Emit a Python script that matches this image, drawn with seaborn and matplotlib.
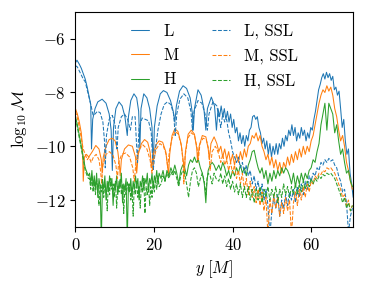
import numpy as np
import matplotlib
matplotlib.use("Agg")
import matplotlib.pyplot as plt
from matplotlib.lines import Line2D
import seaborn as sns

# ---- data (x in M, values are log10 of the constraint) ----

# L, full resolution
L_head_x = [0, 0.4, 1.0, 1.5, 2.0, 2.5, 3.0, 3.5, 3.9, 4.1, 4.4, 5.0, 5.7, 6.8, 7.8, 8.6, 9.1, 9.4, 9.7, 10.3,
            11.1, 11.9, 12.6, 13.2, 13.5, 14.1, 14.9, 15.6, 16.1, 16.4, 16.7, 17.4, 18.2, 18.9, 19.5, 19.8, 20.1,
            20.8, 21.6, 22.4, 23.3, 24.2, 24.9, 25.3, 25.7, 26.5, 27.4, 28.3, 29.2, 29.8, 30.0, 30.3, 31.2, 32.0,
            32.7, 33.2, 33.6, 34.6, 35.4, 35.9]
L_head_y = [-6.9, -6.8, -6.95, -7.1, -7.3, -7.5, -7.8, -8.15, -8.45, -10.1, -9.0, -8.6, -8.35, -8.25, -8.4, -8.8,
            -9.4, -10.9, -9.3, -8.6, -8.35, -8.5, -8.9, -9.6, -8.9, -8.3, -8.05, -8.2, -8.7, -10.1, -8.6, -8.05,
            -8.2, -8.6, -9.3, -10.8, -9.3, -8.5, -8.05, -7.93, -8.0, -8.3, -8.7, -9.1, -8.5, -7.95, -7.75, -7.85,
            -8.2, -8.8, -9.4, -8.6, -7.9, -8.1, -8.6, -9.4, -8.6, -8.17, -8.5, -9.4]
L_tail_x = np.arange(36.3, 70.75, 0.4)
L_tail_y = [-8.6, -8.9, -8.5, -8.9, -8.6, -9.0, -8.7, -9.1, -8.8, -9.3,
            -9.0, -9.5, -9.3, -9.8, -9.5, -9.9, -9.6, -10.0, -9.6, -9.8,
            -9.4, -9.3, -8.9, -8.85, -9.0, -8.9, -9.3, -9.5, -9.9, -9.7,
            -10.1, -9.8, -10.3, -9.9, -10.4, -10.0, -10.3, -9.9, -10.3, -9.9,
            -10.1, -9.7, -10.0, -9.6, -9.8, -9.4, -9.6, -9.2, -9.6, -9.3,
            -9.8, -9.5, -9.7, -9.3, -9.6, -9.4, -9.8, -9.5, -9.7, -9.3,
            -9.4, -9.0, -8.7, -8.3, -7.9, -7.7, -7.45, -7.3, -7.5, -7.25,
            -7.45, -7.3, -7.55, -7.4, -7.9, -7.8, -8.1, -7.95, -8.6, -9.3,
            -9.0, -9.8, -10.3, -10.1, -11.0, -11.4, -11.9]

# L, SSL
LS_head_x = [0, 0.5, 1.0, 1.5, 2.0, 2.5, 3.0, 3.5, 4.0, 4.5, 5.0, 5.6, 6.3, 7.0, 7.4, 7.6, 7.9, 8.6, 9.4, 10.1,
             10.6, 10.9, 11.7, 12.5, 13.3, 14.0, 14.5, 15.2, 15.8, 16.2, 17.0, 17.8, 18.6, 19.3, 19.8, 20.3, 21.0,
             21.8, 22.6, 23.4, 24.3, 25.0, 25.4, 25.8, 26.6, 27.6, 28.6, 29.4, 29.8, 30.2, 31.2, 32.2, 33.0, 33.6,
             34.0, 35.0, 36.0]
LS_head_y = [-7.0, -7.05, -7.2, -7.35, -7.5, -7.6, -7.9, -8.2, -8.5, -8.85, -8.8, -8.7, -8.75, -9.1, -9.8, -10.8,
             -9.6, -9.0, -8.85, -9.2, -10.1, -9.3, -8.9, -8.8, -9.0, -9.4, -8.9, -8.9, -10.6, -9.3, -8.95, -9.0,
             -9.05, -9.5, -10.9, -10.2, -9.4, -8.8, -8.45, -8.35, -8.45, -8.8, -9.6, -8.8, -8.25, -8.05, -8.2,
             -8.7, -9.4, -8.7, -8.3, -8.4, -8.8, -9.4, -8.8, -8.35, -8.5]
tail_x = np.arange(36.5, 70.75, 0.5)
LS_tail_y = [-8.9, -9.3, -8.8, -9.1, -9.0, -9.5, -9.8, -10.2, -10.4, -10.6,
             -10.4, -10.8, -10.6, -11.0, -10.7, -11.1, -10.9, -11.4, -11.1, -11.6,
             -11.3, -11.8, -11.4, -12.0, -11.6, -12.2, -13.3, -12.4, -11.9, -12.3,
             -11.8, -12.6, -12.0, -12.3, -11.8, -12.2, -11.7, -12.0, -11.6, -12.1,
             -11.5, -11.9, -11.4, -11.8, -11.3, -11.6, -11.1, -11.3, -11.0, -11.1,
             -10.8, -10.9, -10.6, -10.7, -10.5, -10.6, -10.45, -10.55, -10.5, -10.7,
             -10.8, -11.1, -11.3, -11.7, -11.6, -12.1, -13.2, -12.6, -12.3]

# M, full resolution
M_head_x = [0, 0.5, 1.0, 1.5, 1.8, 2.0, 2.3, 2.8, 3.4, 4.3, 5.2, 6.0, 6.6, 6.8, 7.1, 7.8, 8.6, 9.4, 10.1, 10.8,
            11.2, 11.4, 11.7, 12.5, 13.5, 14.5, 15.3, 15.6, 16.0, 16.8, 17.6, 18.4, 19.0, 19.4, 19.8, 20.5, 21.3,
            22.2, 23.0, 23.5, 23.7, 24.0, 24.6, 25.3, 26.1, 26.9, 27.5, 27.7, 28.0, 28.7, 29.5, 30.3, 30.9, 31.1,
            31.5, 32.3, 33.2, 33.8, 34.1, 34.5, 35.3, 36.0]
M_head_y = [-8.6, -8.8, -9.1, -9.5, -10.0, -11.3, -10.4, -10.3, -10.4, -10.2, -9.97, -10.1, -10.5, -11.0, -10.4,
            -10.0, -9.75, -9.7, -9.8, -10.2, -10.7, -11.1, -10.5, -10.1, -9.95, -10.0, -10.4, -11.0, -10.3, -9.9,
            -9.75, -9.85, -10.2, -10.8, -10.3, -9.95, -9.8, -9.85, -10.2, -10.8, -11.1, -10.3, -9.6, -9.35, -9.45,
            -9.9, -10.6, -11.1, -10.2, -9.55, -9.4, -9.55, -10.1, -10.6, -10.0, -9.6, -9.65, -10.1, -10.5, -9.9,
            -9.65, -9.9]
M_tail_y = [-10.2, -10.0, -10.4, -10.1, -10.5, -10.2, -10.6, -10.3, -10.7, -10.3,
            -10.6, -10.2, -10.5, -10.1, -10.4, -10.0, -9.9, -9.6, -9.7, -9.5,
            -9.8, -9.6, -10.0, -10.2, -10.5, -10.3, -10.7, -10.4, -10.8, -10.5,
            -10.9, -10.6, -11.0, -10.6, -10.8, -10.4, -10.7, -10.3, -10.6, -10.2,
            -10.5, -10.1, -10.4, -10.0, -10.3, -10.0, -10.2, -9.8, -9.6, -9.2,
            -8.8, -8.4, -8.1, -7.9, -8.0, -7.75, -7.95, -7.8, -8.1, -8.6,
            -8.9, -9.4, -9.8, -9.6, -10.0, -10.6, -10.9, -11.3, -11.6]

# M, SSL
MS_head_x = [0, 0.5, 1.0, 1.5, 2.0, 2.5, 3.0, 3.5, 4.0, 4.6, 5.3, 6.0, 6.4, 6.7, 7.0, 7.8, 8.7, 9.6, 10.3, 10.7,
             11.0, 11.8, 12.8, 13.8, 14.6, 15.0, 15.4, 16.2, 17.2, 18.2, 19.0, 19.5, 19.9, 20.6, 21.5, 22.4, 23.1,
             23.5, 23.9, 24.6, 25.4, 26.2, 27.0, 27.4, 27.6, 27.9, 28.6, 29.5, 30.3, 30.9, 31.3, 31.7, 32.5, 33.3,
             33.9, 34.3, 34.8, 35.6, 36.0]
MS_head_y = [-8.7, -8.95, -9.3, -9.7, -10.1, -10.3, -10.5, -10.4, -10.6, -10.4, -10.3, -10.5, -10.9, -11.4, -10.7,
             -10.3, -10.2, -10.35, -10.7, -11.2, -10.6, -10.3, -10.25, -10.4, -10.8, -11.3, -10.6, -10.1, -9.95,
             -10.1, -10.5, -11.0, -10.5, -10.1, -9.9, -10.0, -10.3, -10.8, -10.2, -9.7, -9.45, -9.55, -10.0, -10.6,
             -11.4, -10.4, -9.7, -9.5, -9.6, -10.0, -10.5, -9.9, -9.7, -9.75, -10.1, -10.9, -10.2, -10.0, -10.1]
MS_tail_y = [-10.3, -10.6, -10.3, -10.7, -10.5, -10.9, -10.6, -11.0, -10.7, -11.2,
             -10.9, -11.4, -11.0, -11.6, -11.2, -11.8, -11.3, -11.9, -11.5, -12.1,
             -11.6, -12.2, -11.7, -12.4, -11.9, -13.3, -12.0, -12.5, -11.8, -12.3,
             -11.9, -12.6, -12.1, -12.5, -11.9, -12.4, -12.0, -13.3, -12.1, -11.7,
             -12.2, -11.6, -12.0, -11.5, -11.9, -11.4, -11.7, -11.3, -11.4, -11.1,
             -11.2, -11.0, -11.05, -10.9, -10.95, -10.8, -10.85, -10.8, -10.9, -11.0,
             -11.2, -11.4, -11.6, -11.9, -11.8, -12.2, -12.0, -12.4, -12.2]

# H, full resolution
H_head_x = [0, 0.5, 1.0, 1.5, 2.0, 2.5, 3.0, 3.3]
H_head_y = [-8.9, -9.2, -9.6, -10.0, -10.4, -10.8, -11.0, -11.1]
noise_x = np.arange(3.6, 21.35, 0.3)
H_noise_y = [-11.0, -11.4, -10.9, -11.5, -11.1, -11.6, -11.0, -11.9, -11.2, -11.5,
             -13.5, -11.3, -11.6, -11.1, -12.0, -11.3, -11.7, -11.1, -11.5, -11.2,
             -12.2, -11.4, -11.6, -11.1, -11.8, -11.3, -11.5, -11.0, -12.1, -11.4,
             -11.6, -11.2, -13.5, -11.4, -11.7, -11.2, -11.9, -11.3, -11.6, -11.1,
             -11.5, -11.2, -12.0, -11.3, -11.5, -11.1, -11.6, -11.2, -11.4, -11.0,
             -11.7, -11.2, -11.4, -11.0, -11.6, -11.1, -11.3, -10.9, -11.4, -11.0]
mid_x = [21.8, 22.3, 22.8, 23.3, 23.8, 24.3, 24.8, 25.3, 25.8, 26.3, 26.8, 27.3, 27.8, 28.3, 28.8,
         29.3, 29.8, 30.3, 30.8, 31.3, 31.8, 32.3, 32.8, 33.2, 33.5, 33.8, 34.3, 34.8, 35.3, 35.8]
H_mid_y = [-11.2, -10.9, -11.3, -10.9, -11.1, -10.8, -11.0, -10.7, -11.0, -11.4, -10.9, -10.7, -10.8, -11.1,
           -10.7, -10.5, -10.6, -10.4, -10.6, -10.5, -10.8, -11.0, -11.4, -12.1, -11.3, -10.9, -10.7, -10.6,
           -10.7, -10.9]
H_tail_y = [-10.7, -10.9, -10.6, -10.8, -11.1, -10.9, -11.2, -10.9, -11.1, -10.8,
            -11.0, -10.7, -11.0, -10.8, -11.1, -10.7, -10.5, -10.2, -10.15, -10.5,
            -10.8, -11.0, -10.8, -11.2, -10.9, -11.4, -11.0, -11.3, -10.9, -11.2,
            -10.9, -11.1, -10.8, -11.0, -10.8, -10.9, -11.1, -11.4, -11.0, -11.5,
            -11.1, -11.4, -11.0, -11.3, -11.0, -11.2, -10.9, -10.8, -10.5, -10.6,
            -10.2, -9.9, -9.2, -8.8, -8.4, -9.4, -8.4, -8.6, -8.8, -9.5,
            -9.2, -9.8, -10.3, -10.1, -10.6, -11.0, -10.9, -11.3, -11.5]

# H, SSL
HS_head_y = [-8.95, -9.3, -9.7, -10.1, -10.5, -10.9, -11.1, -11.2]
HS_noise_y = [-11.2, -11.6, -11.1, -11.7, -11.3, -11.8, -11.2, -11.6, -12.2, -11.4,
              -11.7, -11.2, -11.9, -11.4, -11.6, -12.4, -11.3, -11.8, -11.2, -11.6,
              -11.4, -11.9, -11.3, -12.3, -11.5, -11.7, -11.2, -11.8, -11.4, -12.5,
              -11.5, -11.8, -11.3, -11.7, -11.4, -12.0, -11.5, -12.6, -11.4, -11.8,
              -11.3, -11.9, -11.5, -12.3, -11.4, -11.7, -11.2, -12.5, -11.5, -11.8,
              -11.4, -12.2, -11.5, -11.9, -11.3, -11.7, -11.2, -11.6, -11.1, -11.5]
HS_mid_y = [-11.4, -11.1, -11.3, -11.0, -11.2, -10.95, -11.1, -10.9, -11.2, -11.5, -11.1, -10.9, -11.0, -11.4,
            -11.9, -11.3, -10.9, -10.8, -11.0, -11.5, -11.2, -11.0, -11.3, -11.8, -11.2, -11.0, -11.1, -11.4,
            -11.0, -11.2]
HS_tail_y = [-11.3, -11.0, -11.4, -11.1, -11.5, -11.2, -11.6, -11.3, -11.7, -11.4,
             -11.8, -11.4, -11.9, -11.5, -11.9, -11.5, -12.0, -11.6, -12.1, -11.6,
             -12.0, -11.5, -12.1, -11.6, -11.9, -11.5, -12.0, -11.6, -11.9, -11.5,
             -12.1, -11.6, -11.9, -11.4, -11.8, -11.5, -11.9, -11.5, -11.8, -11.4,
             -11.8, -11.4, -11.7, -11.3, -11.6, -11.3, -11.5, -11.2, -11.4, -11.2,
             -11.3, -11.1, -11.2, -11.05, -11.1, -11.0, -11.05, -11.0, -11.1, -11.2,
             -11.4, -11.6, -11.8, -12.1, -11.9, -12.3, -12.1, -12.4, -12.2]

x_ticks = [0, 20, 40, 60]
y_ticks = [-12, -10, -8, -6]

series = [
    ("L", np.r_[L_head_x, L_tail_x], np.r_[L_head_y, L_tail_y], "C0", "-"),
    ("M", np.r_[M_head_x, tail_x], np.r_[M_head_y, M_tail_y], "C1", "-"),
    ("H", np.r_[H_head_x, noise_x, mid_x, tail_x], np.r_[H_head_y, H_noise_y, H_mid_y, H_tail_y], "C2", "-"),
    ("L, SSL", np.r_[LS_head_x, tail_x], np.r_[LS_head_y, LS_tail_y], "C0", "--"),
    ("M, SSL", np.r_[MS_head_x, tail_x], np.r_[MS_head_y, MS_tail_y], "C1", "--"),
    ("H, SSL", np.r_[H_head_x, noise_x, mid_x, tail_x], np.r_[HS_head_y, HS_noise_y, HS_mid_y, HS_tail_y], "C2", "--"),
]

sns.set_style("ticks")
plt.rcParams.update({
    "font.family": "serif",
    "font.serif": ["cmr10"],
    "mathtext.fontset": "cm",
    "axes.formatter.use_mathtext": True,
    "font.size": 12,
    "axes.edgecolor": "black",
    "xtick.color": "black",
    "ytick.color": "black",
    "text.color": "black",
    "axes.labelcolor": "black",
})

fig, ax = plt.subplots(figsize=(3.66, 2.88), dpi=100)
fig.subplots_adjust(left=0.206, right=0.965, bottom=0.212, top=0.959)

handles = []
for name, xs, ys, col, ls in series:
    sns.lineplot(x=xs, y=ys, ax=ax, color=col, linestyle=ls, linewidth=0.75,
                 estimator=None, sort=False)
    handles.append(Line2D([], [], color=col, linestyle=ls, linewidth=0.75, label=name))

ax.set_xlim(0, 70.7)
ax.set_ylim(-13, -5)
ax.set_xticks(x_ticks)
ax.set_yticks(y_ticks)
ax.set_xlabel(r"$y\;[M]$")
ax.set_ylabel(r"$\log_{10}\mathcal{M}$")
ax.legend(handles=handles, loc="upper center", ncol=2, frameon=False,
          handlelength=1.1, handletextpad=0.85, columnspacing=2.0, borderaxespad=0.3,
          labelspacing=0.54)

fig.savefig("out.png", dpi=100)
